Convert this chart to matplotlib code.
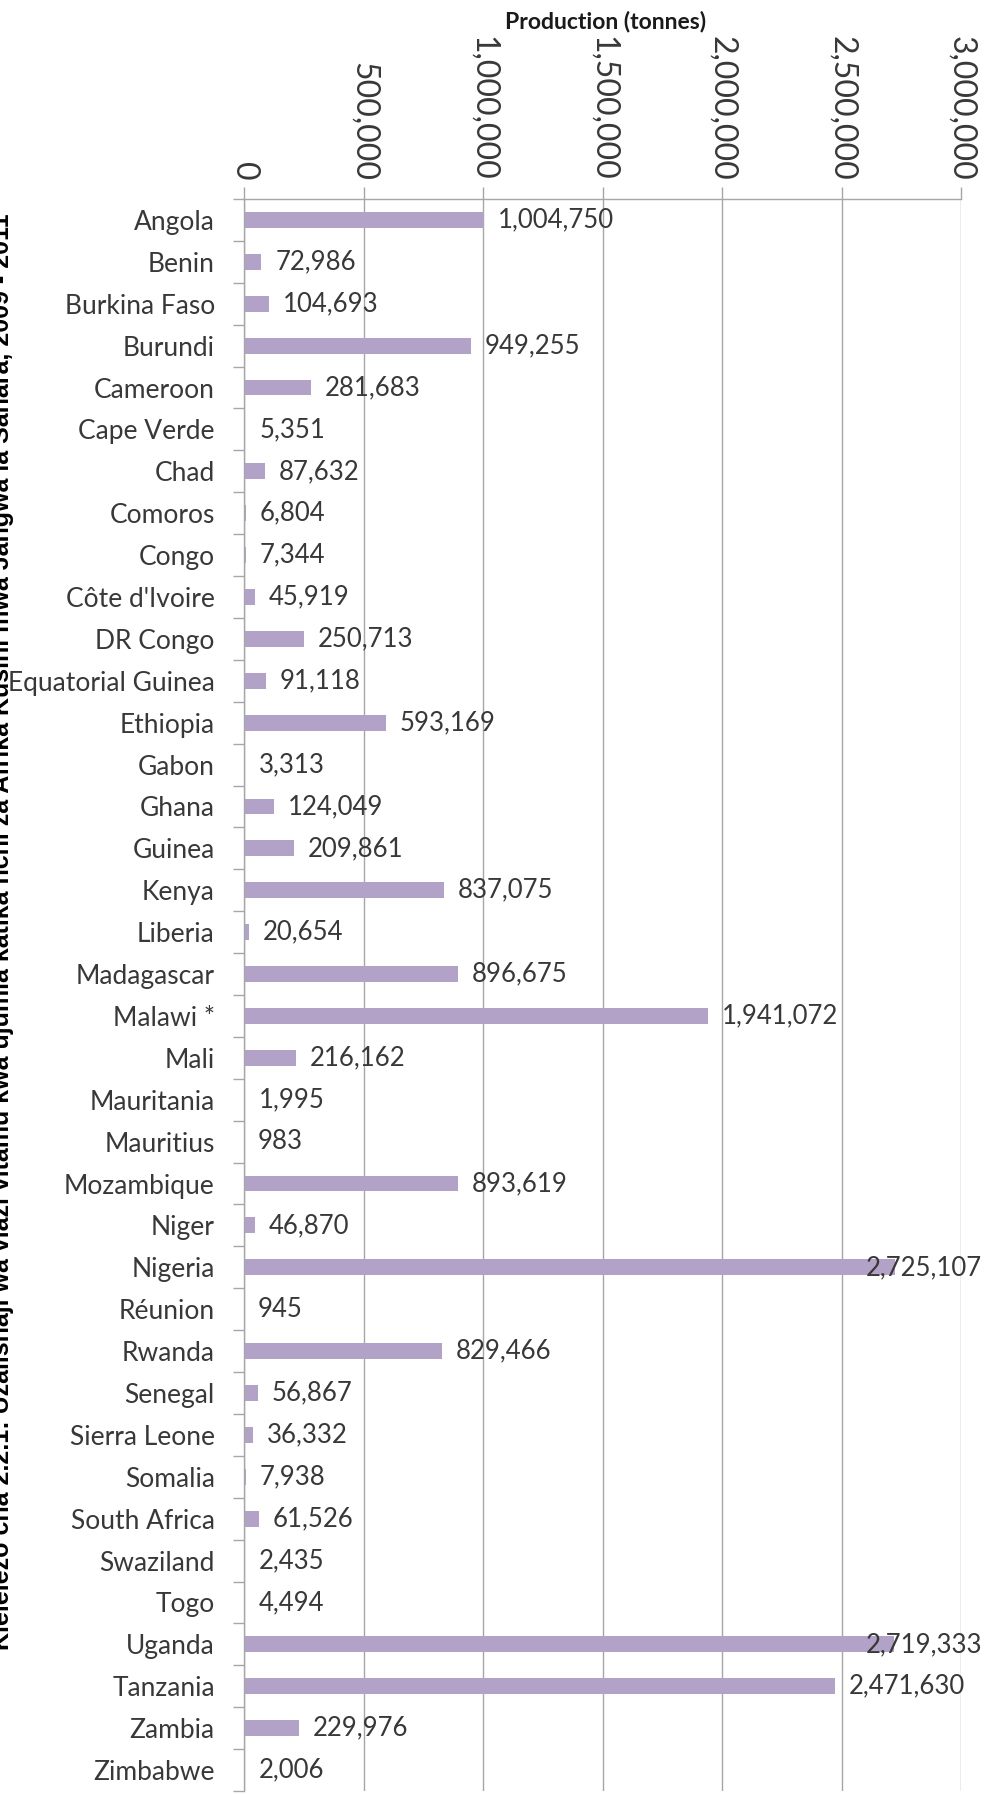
#!/usr/bin/env python3
"""Sweet potato production, Sub-Saharan Africa, 2009-2011 (horizontal bars)."""

import matplotlib
matplotlib.use('Agg')
import matplotlib.pyplot as plt
from matplotlib.ticker import FuncFormatter, FixedLocator
import numpy as np

countries = [
    'Angola', 'Benin', 'Burkina Faso', 'Burundi', 'Cameroon', 'Cape Verde',
    'Chad', 'Comoros', 'Congo', "Côte d'Ivoire", 'DR Congo',
    'Equatorial Guinea', 'Ethiopia', 'Gabon', 'Ghana', 'Guinea', 'Kenya',
    'Liberia', 'Madagascar', 'Malawi *', 'Mali', 'Mauritania', 'Mauritius',
    'Mozambique', 'Niger', 'Nigeria', 'Réunion', 'Rwanda', 'Senegal',
    'Sierra Leone', 'Somalia', 'South Africa', 'Swaziland', 'Togo',
    'Uganda', 'Tanzania', 'Zambia', 'Zimbabwe',
]
production = [
    1004750, 72986, 104693, 949255, 281683, 5351,
    87632, 6804, 7344, 45919, 250713,
    91118, 593169, 3313, 124049, 209861, 837075,
    20654, 896675, 1941072, 216162, 1995, 983,
    893619, 46870, 2725107, 945, 829466, 56867,
    36332, 7938, 61526, 2435, 4494,
    2719333, 2471630, 229976, 2006,
]
x_ticks = [0, 500000, 1000000, 1500000, 2000000, 2500000, 3000000]

TITLE = ('Kielelezo cha 2.2.1: Uzalishaji wa viazi vitamu kwa ujumla katika '
         'nchi za Afrika Kusini mwa Jangwa la Sahara, 2009 - 2011')

BAR = '#b3a2c7'
GRID = '#a6a6a6'
TEXT = '#383838'

W, H = 985, 1794
fig = plt.figure(figsize=(W / 100, H / 100), dpi=100)
plt.rcParams['font.family'] = ['Lato', 'DejaVu Sans']

left, right, top, bottom = 244, 961, 199, 1791
ax = fig.add_axes([left / W, 1 - bottom / H, (right - left) / W, (bottom - top) / H])

y = np.arange(len(countries))
ax.barh(y, production, height=0.38, color=BAR, zorder=2)

labels = []
for yi, v in zip(y, production):
    t = ax.annotate(f'{v:,}', (v, yi), xytext=(10, 0), textcoords='offset points',
                    va='center', ha='left', fontsize=18.5, color=TEXT, zorder=3)
    labels.append(t)

ax.set_xlim(0, 3000000)
ax.set_ylim(len(countries) - 0.5, -0.5)

ax.xaxis.tick_top()
ax.set_xticks(x_ticks)
ax.xaxis.set_major_formatter(FuncFormatter(lambda v, p: f'{int(v):,}'))
ax.tick_params(axis='x', which='major', length=9, width=1, color=GRID,
               pad=4, labelsize=23, labelcolor=TEXT, labelrotation=-90)
ax.grid(axis='x', color=GRID, linewidth=1, zorder=1)

ax.set_yticks(y)
ax.set_yticklabels(countries)
ax.yaxis.set_minor_locator(FixedLocator(np.arange(-0.5, len(countries), 1.0)))
ax.tick_params(axis='y', which='major', length=0, pad=21,
               labelsize=19, labelcolor=TEXT)
ax.tick_params(axis='y', which='minor', length=8, width=1, color=GRID)

for side in ['right', 'bottom']:
    ax.spines[side].set_visible(False)
for side in ['left', 'top']:
    ax.spines[side].set_color(GRID)
    ax.spines[side].set_linewidth(1)

fig.text(606 / W, 1 - 22 / H, 'Production (tonnes)', ha='center', va='center',
         fontsize=16.5, fontweight='bold', color='#1a1a1a')

fig.text(2 / W, 1 - 932 / H, TITLE, rotation=90, ha='center', va='center',
         fontsize=18, fontweight='bold', color='black',
         family=['Liberation Sans', 'DejaVu Sans'])

# pull labels that would run off the right edge back inside (as Excel does)
fig.canvas.draw()
renderer = fig.canvas.get_renderer()
for t in labels:
    bb = t.get_window_extent(renderer)
    over = bb.x1 - (W - 3)
    if over > 0:
        dx, dy = t.xyann
        t.xyann = (dx - over * 72 / 100, dy)

fig.savefig('out.png', dpi=100)
